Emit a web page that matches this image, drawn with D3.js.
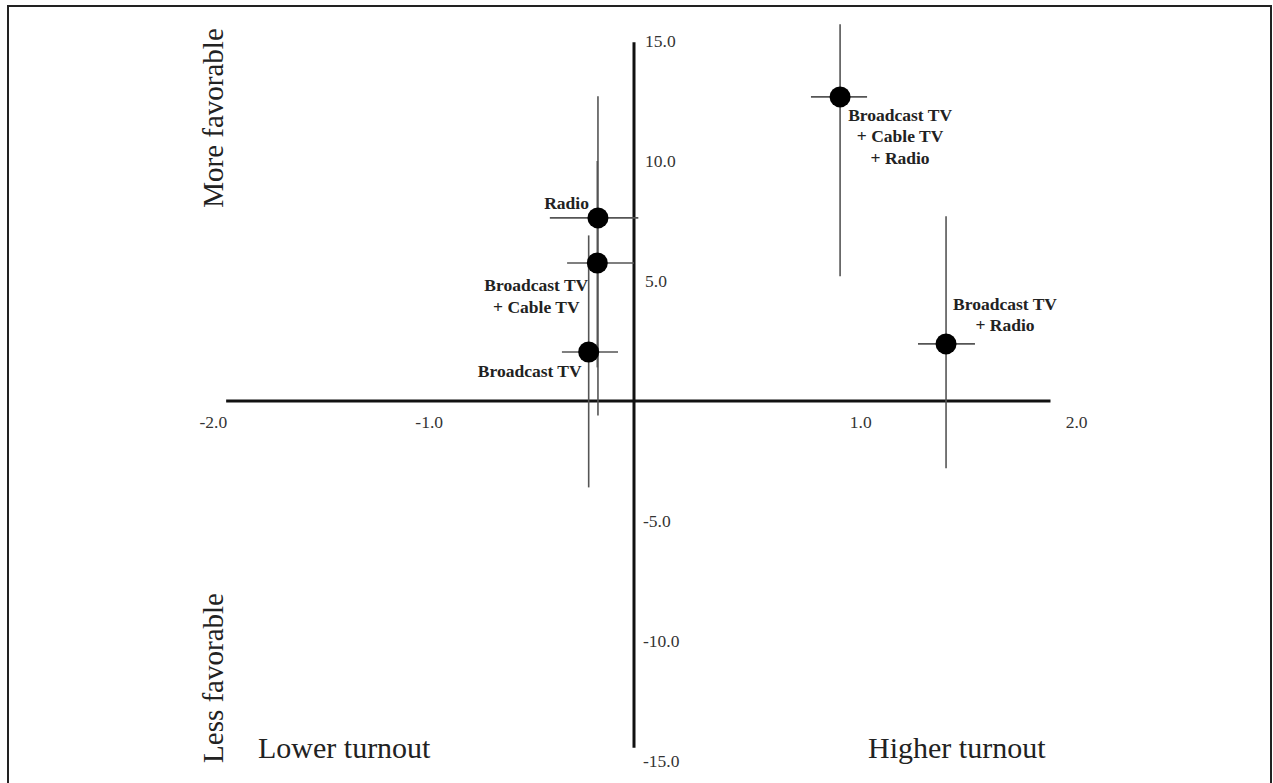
<!DOCTYPE html>
<html>
<head>
<meta charset="utf-8">
<script src="https://cdn.jsdelivr.net/npm/d3@7"></script>
<style>
  body { margin: 0; background: #fff; }
  svg { display: block; }
  text { font-family: "Liberation Serif", "Times New Roman", serif; }
</style>
</head>
<body>
<div id="container"></div>
<script>
// Data
const media = ["Broadcast TV", "Broadcast TV + Cable TV", "Radio", "Broadcast TV + Cable TV + Radio", "Broadcast TV + Radio"];
const turnout = [-0.21, -0.17, -0.167, 0.955, 1.446];
const turnoutLow = [-0.334, -0.31, -0.39, 0.82, 1.316];
const turnoutHigh = [-0.074, 0.0, 0.02, 1.08, 1.58];
const favor = [2.04, 5.75, 7.63, 12.67, 2.38];
const favorLow = [-3.6, 1.4, -0.6, 5.2, -2.8];
const favorHigh = [6.9, 10.0, 12.7, 15.7, 7.7];
const xTicks = [-2, -1, 1, 2];
const yTicks = [15, 10, 5, -5, -10, -15];

const width = 1273,
  height = 783;

const svg = d3.select("div#container")
  .append("svg")
  .attr("width", width)
  .attr("height", height);

// Scales
const x = d3.scaleLinear().domain([-2, 2]).range([634 - 2 * 215.8, 634 + 2 * 215.8]);
const y = d3.scaleLinear().domain([-15, 15]).range([761, 41]);

// Frame (open at the bottom)
svg.append("path")
  .attr("d", `M8,${height} V6 H1271 V${height}`)
  .attr("fill", "none")
  .attr("stroke", "#222")
  .attr("stroke-width", 2);

// Axes
svg.append("line")
  .attr("x1", x(-1.89)).attr("x2", x(1.93))
  .attr("y1", y(0)).attr("y2", y(0))
  .attr("stroke", "#111").attr("stroke-width", 3);
svg.append("line")
  .attr("x1", x(0)).attr("x2", x(0))
  .attr("y1", y(14.95)).attr("y2", y(-14.45))
  .attr("stroke", "#111").attr("stroke-width", 3);

svg.append("g").selectAll("text")
  .data(xTicks)
  .enter()
  .append("text")
  .attr("x", (d) => x(d) + 11)
  .attr("y", y(0) + 21)
  .attr("text-anchor", "middle")
  .attr("dominant-baseline", "central")
  .attr("font-size", 17.5)
  .attr("fill", "#333")
  .text((d) => d3.format(".1f")(d).replace("−", "-"));

svg.append("g").selectAll("text")
  .data(yTicks)
  .enter()
  .append("text")
  .attr("x", (d) => d < 0 ? x(0) + 9 : x(0) + 11)
  .attr("y", (d) => y(d))
  .attr("dominant-baseline", "central")
  .attr("font-size", 17.5)
  .attr("fill", "#333")
  .text((d) => d3.format(".1f")(d).replace("−", "-"));

// Error bars
const idx = d3.range(media.length);
svg.append("g").selectAll("line.v")
  .data(idx)
  .enter()
  .append("line")
  .attr("x1", (i) => x(turnout[i])).attr("x2", (i) => x(turnout[i]))
  .attr("y1", (i) => y(favorHigh[i])).attr("y2", (i) => y(favorLow[i]))
  .attr("stroke", "#555").attr("stroke-width", 1.6);
svg.append("g").selectAll("line.h")
  .data(idx)
  .enter()
  .append("line")
  .attr("x1", (i) => x(turnoutLow[i])).attr("x2", (i) => x(turnoutHigh[i]))
  .attr("y1", (i) => y(favor[i])).attr("y2", (i) => y(favor[i]))
  .attr("stroke", "#555").attr("stroke-width", 1.6);

// Points
svg.append("g").selectAll("circle")
  .data(idx)
  .enter()
  .append("circle")
  .attr("cx", (i) => x(turnout[i]))
  .attr("cy", (i) => y(favor[i]))
  .attr("r", 10.5)
  .attr("fill", "#000");

// Point labels: offsets from the dot
const labelLayout = [
  { dx: -7, dy: 19, anchor: "end", lines: ["Broadcast TV"] },
  { dx: -61, dy: 22, anchor: "middle", lines: ["Broadcast TV", "+ Cable TV"] },
  { dx: -9, dy: -15, anchor: "end", lines: ["Radio"] },
  { dx: 60, dy: 18, anchor: "middle", lines: ["Broadcast TV", "+ Cable TV", "+ Radio"] },
  { dx: 59, dy: -40, anchor: "middle", lines: ["Broadcast TV", "+ Radio"] }
];
idx.forEach((i) => {
  const l = labelLayout[i];
  const t = svg.append("text")
    .attr("text-anchor", l.anchor)
    .attr("font-size", 17.5)
    .attr("font-weight", "bold")
    .attr("fill", "#222");
  l.lines.forEach((s, k) => {
    t.append("tspan")
      .attr("x", x(turnout[i]) + l.dx)
      .attr("y", y(favor[i]) + l.dy + k * 21.5)
      .attr("dominant-baseline", "central")
      .text(s);
  });
});

// Quadrant titles
svg.append("text")
  .attr("transform", `translate(213,118) rotate(-90)`)
  .attr("text-anchor", "middle")
  .attr("dominant-baseline", "central")
  .attr("font-size", 29)
  .attr("fill", "#222")
  .text("More favorable");
svg.append("text")
  .attr("transform", `translate(213,678) rotate(-90)`)
  .attr("text-anchor", "middle")
  .attr("dominant-baseline", "central")
  .attr("font-size", 29)
  .attr("fill", "#222")
  .text("Less favorable");
svg.append("text")
  .attr("x", 258).attr("y", 758)
  .attr("font-size", 30)
  .attr("fill", "#222")
  .text("Lower turnout");
svg.append("text")
  .attr("x", 868).attr("y", 758)
  .attr("font-size", 30)
  .attr("fill", "#222")
  .text("Higher turnout");
</script>
</body>
</html>
